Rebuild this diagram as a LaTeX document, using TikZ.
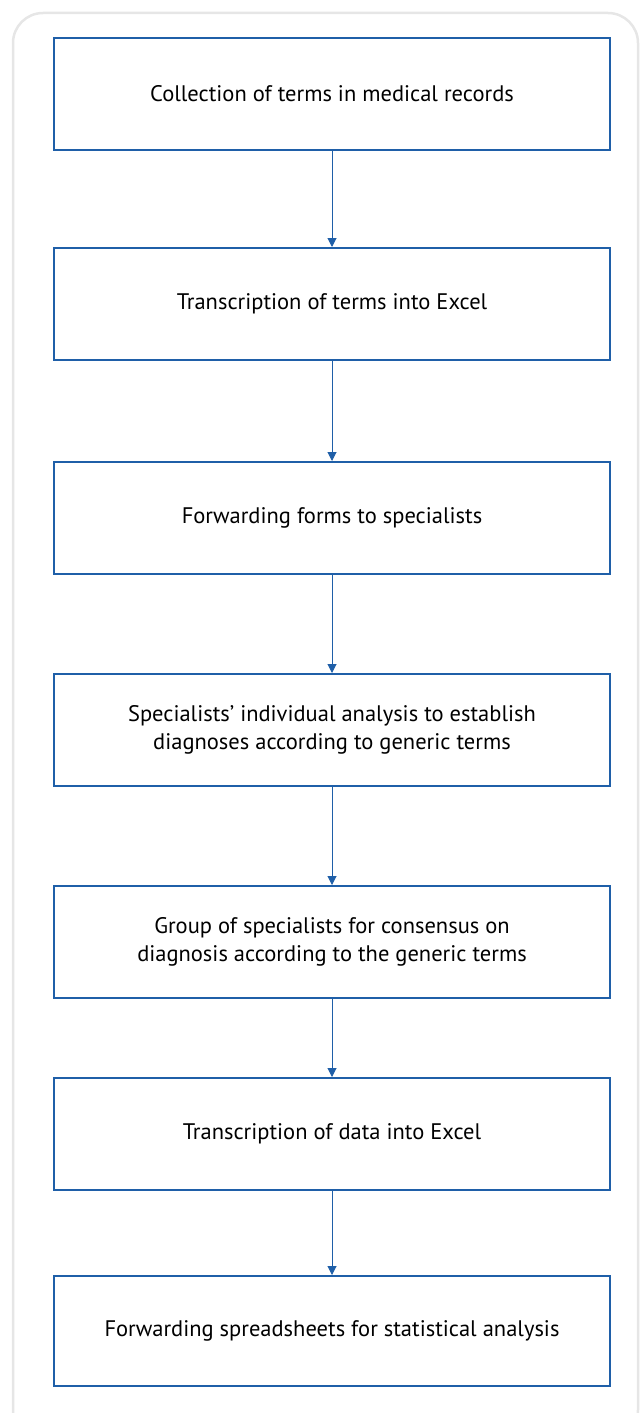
\documentclass[tikz,border=0pt]{standalone}
\usepackage{fontspec}
\setmainfont{PT Sans}
\usetikzlibrary{arrows.meta}
\definecolor{boxblue}{HTML}{1F5FA8}
\definecolor{framegray}{HTML}{E6E6E6}
\begin{document}
\begin{tikzpicture}[x=1pt,y=-1pt,
  stepbox/.style={draw=boxblue,line width=2pt,minimum width=556pt,minimum height=112pt,
    align=center,font=\fontsize{22.5}{28}\selectfont,inner sep=0pt,anchor=north west},
  conn/.style={draw=boxblue,line width=1pt,-{Triangle[length=9pt,width=9pt]}}]
\useasboundingbox (0,0) rectangle (640,1413);
\begin{scope}
\clip (0,0) rectangle (640,1413);
\draw[framegray,line width=2.5pt,rounded corners=30pt] (13,13) rectangle (638,1440);
\end{scope}
\node[stepbox] (b1) at (53,37) {Collection of terms in medical records};
\node[stepbox] (b2) at (53,247) {Transcription of terms into Excel};
\node[stepbox] (b3) at (53,461) {Forwarding forms to specialists};
\node[stepbox] (b4) at (53,673) {Specialists’ individual analysis to establish\\ diagnoses according to generic terms};
\node[stepbox] (b5) at (53,885) {Group of specialists for consensus on\\ diagnosis according to the generic terms};
\node[stepbox] (b6) at (53,1077) {Transcription of data into Excel};
\node[stepbox,minimum height=110pt] (b7) at (53,1275) {Forwarding spreadsheets for statistical analysis};
\draw[conn] (b1.south) -- (b2.north);
\draw[conn] (b2.south) -- (b3.north);
\draw[conn] (b3.south) -- (b4.north);
\draw[conn] (b4.south) -- (b5.north);
\draw[conn] (b5.south) -- (b6.north);
\draw[conn] (b6.south) -- (b7.north);
\end{tikzpicture}
\end{document}
